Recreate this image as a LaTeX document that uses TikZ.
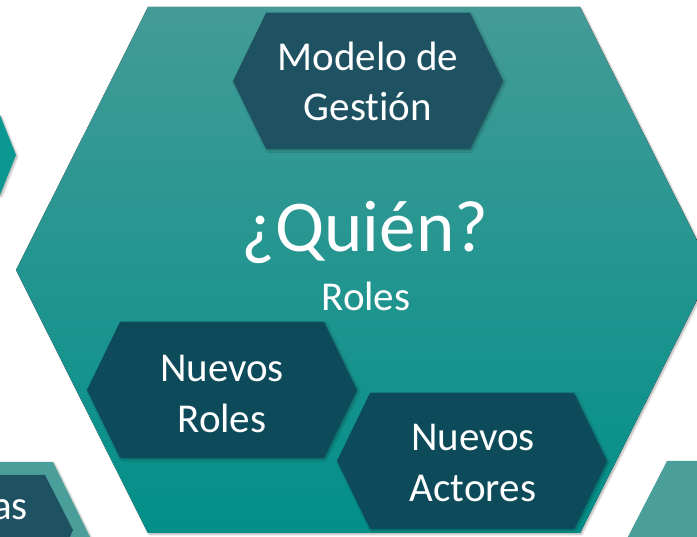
\documentclass[tikz,border=0pt]{standalone}
\usepackage{fontspec}
\setmainfont{Carlito}[Ligatures={NoCommon}]
\usetikzlibrary{shadows.blur}

\definecolor{tealtop}{HTML}{449B97}
\definecolor{tealbot}{HTML}{028F89}
\definecolor{tealside}{HTML}{4A9F9A}
\definecolor{tealleft}{HTML}{0C9892}
\definecolor{hexgrey}{HTML}{1E5262}
\definecolor{hexdark}{HTML}{0D4B5B}

\tikzset{
  hexshadow/.style={blur shadow={shadow xshift=1.5pt, shadow yshift=-1.5pt, shadow blur steps=6, shadow opacity=30}},
  bighex/.style={top color=tealtop, bottom color=tealbot, hexshadow},
  smallhex/.style={fill=#1, hexshadow},
  hextext/.style={text=white, align=center, inner sep=0pt, font=\fontsize{41}{50.5}\selectfont},
}

\begin{document}
\begin{tikzpicture}[x=1pt, y=-1pt]
            \useasboundingbox (0,0) rectangle (697,537);
            \clip (0,0) rectangle (697,537);

            % Neighbour hexagons (cut by the border)
            \fill[tealleft, hexshadow] (-20,115) -- (0,115) -- (16,155) -- (0,195) -- (-20,195) -- cycle;
            \fill[tealside, hexshadow] (-40,462) -- (53,462) -- (90,537) -- (90,560) -- (-40,560) -- cycle;
            \fill[hexgrey] (-40,475) -- (45,475) -- (73,530) -- (60,560) -- (-40,560) -- cycle;
            \fill[tealside, hexshadow] (667,461) -- (720,461) -- (720,560) -- (616,560) -- cycle;

            % Big hexagon
            \fill[bighex] (148,7) -- (580,7) -- (712,270) -- (580,533) -- (148,533) -- (16,270) -- cycle;

            % Small hexagons
            \foreach \cx/\cy/\col in {368/81/hexgrey, 222/390/hexdark, 472/461/hexdark}{
            \fill[smallhex=\col] (\cx-135,\cy) -- (\cx-102,\cy-68) -- (\cx+102,\cy-68)
              -- (\cx+135,\cy) -- (\cx+102,\cy+68) -- (\cx-102,\cy+68) -- cycle;
            }

            % Texts
            \node[hextext, font=\fontsize{73}{80}\selectfont, anchor=base] (quien) at (365,252) {¿Quién?};
            \node[hextext, anchor=base] (roles) at (366,311) {Roles};
            \node[hextext] (modelo) at (368,81.5) {Modelo de\\Gestión};
            \node[hextext] (nroles) at (222,394) {Nuevos\\Roles};
            \node[hextext] (nactores) at (473,463) {Nuevos\\Actores};
            \node[hextext, anchor=base east] (prev) at (28,520) {as};
        \end{tikzpicture}
\end{document}
